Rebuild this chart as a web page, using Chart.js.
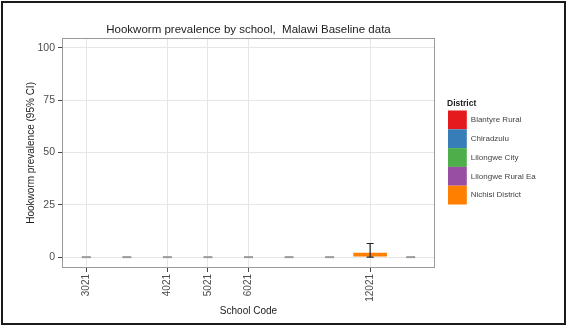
<!DOCTYPE html>
<html>
<head>
<meta charset="utf-8">
<script src="https://cdn.jsdelivr.net/npm/chart.js@4/dist/chart.umd.min.js"></script>
<style>
  html, body { margin: 0; padding: 0; background: #fff; }
  canvas { display: block; }
</style>
</head>
<body>
<canvas id="chart" width="567" height="326"></canvas>
<script>
// School codes along the x axis (null = school shown without a code label)
const schoolCodes = ['3021', null, '4021', '5021', '6021', null, null, '12021', null];
// Hookworm prevalence (%) per school, with 95% confidence limits
const prevalence = [0, 0, 0, 0, 0, 0, 0, 2.1, 0];
const ciLower    = [0, 0, 0, 0, 0, 0, 0, 0, 0];
const ciUpper    = [0, 0, 0, 0, 0, 0, 0, 6.5, 0];
// District of each school
const schoolDistrict = ['Blantyre Rural', 'Chiradzulu', 'Chiradzulu', 'Lilongwe City', 'Lilongwe City',
                        'Lilongwe Rural Ea', 'Lilongwe Rural Ea', 'Nichisi District', 'Nichisi District'];
// Legend entries and their fill colours
const districts = ['Blantyre Rural', 'Chiradzulu', 'Lilongwe City', 'Lilongwe Rural Ea', 'Nichisi District'];
const districtColors = ['#E41A1C', '#377EB8', '#4DAF4A', '#984EA3', '#FF7F00'];
// Y axis tick values
const yTicks = [0, 25, 50, 75, 100];

const FONT = '"Liberation Sans", Arial, sans-serif';

const colorOf = d => districtColors[districts.indexOf(d)];

// White page with a dark frame
const framePlugin = {
  id: 'frame',
  beforeDraw(chart) {
    const c = chart.ctx;
    c.save();
    c.fillStyle = '#fff';
    c.fillRect(0, 0, chart.width, chart.height);
    c.strokeStyle = '#1a1a1a';
    c.lineWidth = 2;
    c.strokeRect(2, 2, chart.width - 4, chart.height - 4);
    c.restore();
  },
  afterDatasetsDraw(chart) {
    // panel border
    const a = chart.chartArea, c = chart.ctx;
    c.save();
    c.strokeStyle = '#9a9a9a';
    c.lineWidth = 1;
    c.strokeRect(Math.round(a.left) + 0.5, Math.round(a.top) + 0.5,
                 Math.round(a.right - a.left) - 1, Math.round(a.bottom - a.top) - 1);
    c.restore();
  }
};

// Confidence-interval whiskers drawn from the scales
const errorBarPlugin = {
  id: 'errorBars',
  afterDatasetsDraw(chart) {
    const c = chart.ctx, xs = chart.scales.x, ys = chart.scales.y;
    c.save();
    prevalence.forEach((v, i) => {
      const x = xs.getPixelForValue(i + 1);
      const lo = ys.getPixelForValue(ciLower[i]);
      const hi = ys.getPixelForValue(ciUpper[i]);
      if (ciUpper[i] === ciLower[i]) {
        // empty interval: a flat grey tick at the value
        c.strokeStyle = '#9a9a9a';
        c.lineWidth = 2;
        c.beginPath();
        c.moveTo(x - 4.5, lo); c.lineTo(x + 4.5, lo);
        c.stroke();
        return;
      }
      c.strokeStyle = '#222';
      c.lineWidth = 1.2;
      c.beginPath();
      c.moveTo(x, lo); c.lineTo(x, hi);
      c.moveTo(x - 3.5, hi); c.lineTo(x + 3.5, hi);
      c.moveTo(x - 3.5, lo); c.lineTo(x + 3.5, lo);
      c.stroke();
    });
    c.restore();
  }
};

// District legend on the right
const districtLegend = {
  id: 'districtLegend',
  afterDraw(chart) {
    const c = chart.ctx;
    const left = 448, top = 110.5, box = 18.8;
    c.save();
    c.fillStyle = '#222';
    c.font = 'bold 8.5px ' + FONT;
    c.textBaseline = 'middle';
    c.fillText('District', 447, 104);
    c.font = '8px ' + FONT;
    districts.forEach((d, i) => {
      const y = top + i * box;
      c.fillStyle = districtColors[i];
      c.fillRect(left, y, box, box);
      c.fillStyle = '#444';
      c.fillText(d, left + box + 4, y + box / 2);
    });
    c.restore();
  }
};

new Chart(document.getElementById('chart'), {
  type: 'bar',
  data: {
    datasets: [{
      data: prevalence.map((v, i) => ({ x: i + 1, y: v })),
      backgroundColor: schoolDistrict.map(colorOf),
      borderWidth: 0,
      categoryPercentage: 1,
      barPercentage: 0.83
    }]
  },
  options: {
    responsive: false,
    devicePixelRatio: 1,
    animation: false,
    layout: { padding: { left: 0, right: 132, top: 0, bottom: 0 } },
    plugins: {
      legend: { display: false },
      tooltip: { enabled: false },
      title: {
        display: true,
        text: 'Hookworm prevalence by school,  Malawi Baseline data',
        fullSize: false,
        color: '#222',
        font: { family: FONT, size: 11.5, weight: 'normal' },
        padding: { top: 22.5, bottom: 1.5 }
      }
    },
    scales: {
      x: {
        type: 'linear',
        min: 0.4,
        max: 9.6,
        offset: false,
        afterBuildTicks(scale) {
          scale.ticks = schoolCodes
            .map((code, i) => (code ? { value: i + 1 } : null))
            .filter(Boolean);
        },
        afterFit(scale) { scale.height = 58; },
        ticks: {
          callback: v => schoolCodes[v - 1] || '',
          minRotation: 90,
          maxRotation: 90,
          autoSkip: false,
          padding: 2,
          color: '#4d4d4d',
          font: { family: FONT, size: 10 }
        },
        grid: { offset: false, color: '#e6e6e6', tickColor: '#444', tickLength: 4, lineWidth: 1 },
        border: { display: false },
        title: {
          display: true,
          text: 'School Code',
          color: '#222',
          font: { family: FONT, size: 10 },
          padding: { top: 0, bottom: 9 }
        }
      },
      y: {
        min: -5.2,
        max: 104.8,
        afterBuildTicks(scale) { scale.ticks = yTicks.map(v => ({ value: v })); },
        afterFit(scale) { scale.width = 62; },
        ticks: {
          color: '#4d4d4d',
          padding: 3,
          font: { family: FONT, size: 10.5 }
        },
        grid: { color: '#e6e6e6', tickColor: '#444', tickLength: 4, lineWidth: 1 },
        border: { display: false },
        title: {
          display: true,
          text: 'Hookworm prevalence (95% CI)',
          color: '#222',
          font: { family: FONT, size: 10 },
          padding: { top: 25.5, bottom: 0 }
        }
      }
    }
  },
  plugins: [framePlugin, errorBarPlugin, districtLegend]
});
</script>
</body>
</html>
